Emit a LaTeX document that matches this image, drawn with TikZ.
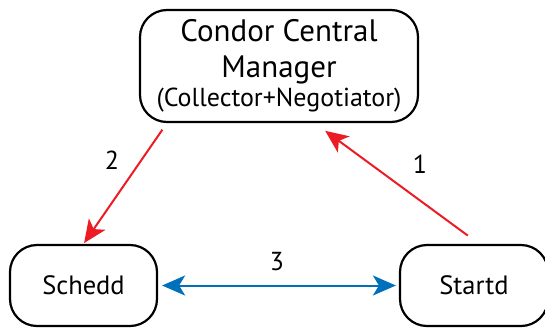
\documentclass[tikz,border=0pt]{standalone}
\usepackage{fontspec}
\setmainfont{PT Sans}
\usetikzlibrary{arrows.meta}
\definecolor{condorred}{RGB}{237,28,36}
\definecolor{condorblue}{RGB}{0,112,186}
\tikzset{
  daemon/.style={draw, line width=2.2pt, rounded corners=27pt, align=center, inner sep=0pt},
  tip/.style={Stealth[length=23pt,width=20pt,inset=6pt]},
  msg/.style={line width=2pt, -{Stealth[length=23pt,width=20pt,inset=6pt]}},
  num/.style={font=\fontsize{26}{30}\selectfont}
}
\begin{document}
\begin{tikzpicture}[x=1pt,y=-1pt]
\useasboundingbox (0,0) rectangle (545,327);
\node [daemon, minimum width=278pt, minimum height=112pt, font=\fontsize{31}{36}\selectfont] (mgr) at (279,66)
  {Condor Central\\ Manager\\[-7pt] {\fontsize{26}{30}\selectfont (Collector+Negotiator)}};
\node [daemon, minimum width=147pt, minimum height=81pt, font=\fontsize{26.5}{30}\selectfont] (sch) at (83.5,285.5) {Schedd};
\node [daemon, minimum width=148pt, minimum height=81pt, font=\fontsize{26.5}{30}\selectfont] (std) at (474,285.5) {Startd};
\draw [msg, condorred, shorten <=14pt, shorten >=13pt] (std.83) -- (mgr.302);
\draw [msg, condorred, shorten <=8pt, shorten >=1pt] (mgr.207) -- (sch.north);
\draw [line width=2pt, condorblue, {Stealth[length=23pt,width=20pt,inset=6pt]}-{Stealth[length=23pt,width=20pt,inset=6pt]}, shorten <=4pt, shorten >=3pt] (sch.east) -- (std.west);
\node [num] (n1) at (420,164) {1};
\node [num] (n2) at (112,160) {2};
\node [num] (n3) at (277,262) {3};
\end{tikzpicture}
\end{document}
